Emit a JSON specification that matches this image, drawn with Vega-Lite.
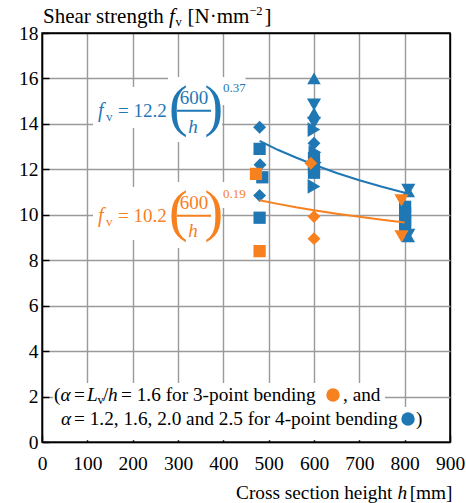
{
  "$schema": "https://vega.github.io/schema/vega-lite/v6.json",
  "width": 408,
  "height": 409,
  "autosize": {"type": "none"},
  "padding": {"left": 42, "top": 33, "right": 16, "bottom": 61},
  "background": "white",
  "config": {
    "view": {"stroke": "black", "strokeWidth": 1.5},
    "font": "Liberation Serif",
    "axis": {
      "grid": true,
      "gridColor": {"condition": {"test": "datum.value === 18 || datum.value === 900", "value": "black"}, "value": "#9a9a9a"},
      "gridWidth": 1.4,
      "domain": true,
      "domainColor": "black",
      "domainWidth": 1.5,
      "tickColor": "black",
      "tickSize": -7,
      "tickWidth": 1.4,
      "labelFont": "Liberation Serif",
      "labelFontSize": 19.5,
      "labelColor": "black",
      "labelFlush": false,
      "labelOverlap": false,
      "title": null
    }
  },
  "datasets": {
    "pts": [
      {"h": 480, "v": 13.85, "g": "4-point", "s": "diamond"},
      {"h": 480, "v": 12.9, "g": "4-point", "s": "square"},
      {"h": 481, "v": 12.2, "g": "4-point", "s": "diamond"},
      {"h": 486, "v": 11.65, "g": "4-point", "s": "square"},
      {"h": 480, "v": 10.85, "g": "4-point", "s": "diamond"},
      {"h": 480, "v": 9.87, "g": "4-point", "s": "square"},
      {"h": 600, "v": 16.0, "g": "4-point", "s": "triangle-up"},
      {"h": 600, "v": 14.85, "g": "4-point", "s": "triangle-down"},
      {"h": 600, "v": 14.47, "g": "4-point", "s": "triangle-up"},
      {"h": 600, "v": 14.05, "g": "4-point", "s": "triangle-down"},
      {"h": 600, "v": 13.75, "g": "4-point", "s": "triangle-right"},
      {"h": 600, "v": 13.15, "g": "4-point", "s": "diamond"},
      {"h": 602, "v": 12.75, "g": "4-point", "s": "triangle-right"},
      {"h": 600, "v": 12.5, "g": "4-point", "s": "square"},
      {"h": 603, "v": 12.3, "g": "4-point", "s": "triangle-right"},
      {"h": 600, "v": 12.05, "g": "4-point", "s": "square"},
      {"h": 600, "v": 11.85, "g": "4-point", "s": "square"},
      {"h": 600, "v": 11.25, "g": "4-point", "s": "triangle-right"},
      {"h": 808, "v": 11.1, "g": "4-point", "s": "triangle-down"},
      {"h": 808, "v": 11.03, "g": "4-point", "s": "triangle-up"},
      {"h": 801, "v": 10.35, "g": "4-point", "s": "square"},
      {"h": 801, "v": 10.05, "g": "4-point", "s": "square"},
      {"h": 801, "v": 9.75, "g": "4-point", "s": "square"},
      {"h": 801, "v": 9.5, "g": "4-point", "s": "square"},
      {"h": 808, "v": 9.12, "g": "4-point", "s": "triangle-down"},
      {"h": 808, "v": 9.05, "g": "4-point", "s": "triangle-up"},
      {"h": 472, "v": 11.8, "g": "3-point", "s": "square"},
      {"h": 480, "v": 8.4, "g": "3-point", "s": "square"},
      {"h": 593, "v": 12.27, "g": "3-point", "s": "diamond"},
      {"h": 600, "v": 9.92, "g": "3-point", "s": "diamond"},
      {"h": 600, "v": 8.95, "g": "3-point", "s": "diamond"},
      {"h": 793, "v": 10.63, "g": "3-point", "s": "triangle-down"},
      {"h": 793, "v": 9.05, "g": "3-point", "s": "triangle-down"}
    ],
    "fit": [
      {"h": 480, "v": 13.25, "g": "4-point"},
      {"h": 520, "v": 12.86, "g": "4-point"},
      {"h": 560, "v": 12.52, "g": "4-point"},
      {"h": 600, "v": 12.2, "g": "4-point"},
      {"h": 650, "v": 11.84, "g": "4-point"},
      {"h": 700, "v": 11.52, "g": "4-point"},
      {"h": 750, "v": 11.23, "g": "4-point"},
      {"h": 800, "v": 10.97, "g": "4-point"},
      {"h": 480, "v": 10.64, "g": "3-point"},
      {"h": 520, "v": 10.48, "g": "3-point"},
      {"h": 560, "v": 10.33, "g": "3-point"},
      {"h": 600, "v": 10.2, "g": "3-point"},
      {"h": 650, "v": 10.05, "g": "3-point"},
      {"h": 700, "v": 9.91, "g": "3-point"},
      {"h": 750, "v": 9.78, "g": "3-point"},
      {"h": 800, "v": 9.66, "g": "3-point"}
    ],
    "boxes": [
      {"h": 112.5, "h2": 278, "v": 15.62, "v2": 13.82},
      {"h": 278, "h2": 397, "v": 16.06, "v2": 13.2},
      {"h": 397, "h2": 449, "v": 16.06, "v2": 14.83},
      {"h": 112.5, "h2": 278, "v": 11.22, "v2": 8.89},
      {"h": 278, "h2": 397, "v": 11.44, "v2": 8.54},
      {"h": 397, "h2": 449, "v": 11.44, "v2": 10.3},
      {"h": 24.5, "h2": 756.6, "v": 2.6, "v2": 1.54},
      {"h": 24.5, "h2": 856, "v": 1.54, "v2": 0.08}
    ],
    "bars": [
      {"h": 297.8, "h2": 372.8, "v": 14.58, "g": "4-point"},
      {"h": 297.8, "h2": 372.8, "v": 9.96, "g": "3-point"}
    ],
    "eq": [
      {"h": 123.5, "v": 14.55, "t": "f", "g": "4-point", "r": "var"},
      {"h": 141, "v": 14.3, "t": "v", "g": "4-point", "r": "sub"},
      {"h": 167.6, "v": 14.55, "t": "= 12.2", "g": "4-point", "r": "num"},
      {"h": 300.5, "v": 14.68, "t": "(", "g": "4-point", "r": "paren"},
      {"h": 379, "v": 14.68, "t": ")", "g": "4-point", "r": "paren"},
      {"h": 335.3, "v": 15.13, "t": "600", "g": "4-point", "r": "frac"},
      {"h": 333, "v": 13.88, "t": "h", "g": "4-point", "r": "fvar"},
      {"h": 399.3, "v": 15.56, "t": "0.37", "g": "4-point", "r": "exp"},
      {"h": 123.5, "v": 9.96, "t": "f", "g": "3-point", "r": "var"},
      {"h": 141, "v": 9.7, "t": "v", "g": "3-point", "r": "sub"},
      {"h": 167.6, "v": 9.96, "t": "= 10.2", "g": "3-point", "r": "num"},
      {"h": 300.5, "v": 10.07, "t": "(", "g": "3-point", "r": "paren"},
      {"h": 379, "v": 10.07, "t": ")", "g": "3-point", "r": "paren"},
      {"h": 335.3, "v": 10.54, "t": "600", "g": "3-point", "r": "frac"},
      {"h": 333, "v": 9.3, "t": "h", "g": "3-point", "r": "fvar"},
      {"h": 399.3, "v": 10.91, "t": "0.19", "g": "3-point", "r": "exp"}
    ],
    "lab": [
      {"h": 2.2, "v": 18.71, "t": "Shear strength", "r": "tt"},
      {"h": 280, "v": 18.71, "t": "f", "r": "tti"},
      {"h": 294.5, "v": 18.5, "t": "v", "r": "small"},
      {"h": 321, "v": 18.71, "t": "[N·mm", "r": "tt"},
      {"h": 457, "v": 18.97, "t": "−2", "r": "small"},
      {"h": 491, "v": 18.71, "t": "]", "r": "tt"},
      {"h": 428, "v": -2.245, "t": "Cross section height", "r": "txt"},
      {"h": 784, "v": -2.245, "t": "h", "r": "txti"},
      {"h": 811, "v": -2.245, "t": "[mm]", "r": "txt"},
      {"h": 26.5, "v": 2.07, "t": "(", "r": "txt"},
      {"h": 40.8, "v": 2.07, "t": "α", "r": "txti"},
      {"h": 70.6, "v": 2.07, "t": "=", "r": "txt"},
      {"h": 99.3, "v": 2.07, "t": "L", "r": "txti"},
      {"h": 122.4, "v": 1.85, "t": "v", "r": "small"},
      {"h": 134.6, "v": 2.07, "t": "/", "r": "txt"},
      {"h": 145.6, "v": 2.07, "t": "h", "r": "txti"},
      {"h": 174.3, "v": 2.07, "t": "= 1.6 for 3-point bending", "r": "txt"},
      {"h": 664, "v": 2.07, "t": ", and", "r": "txt"},
      {"h": 41.9, "v": 1.01, "t": "α", "r": "txti"},
      {"h": 70.6, "v": 1.01, "t": "= 1.2, 1.6, 2.0 and 2.5 for 4-point bending", "r": "txt"},
      {"h": 825, "v": 1.01, "t": ")", "r": "txt"}
    ],
    "dots": [
      {"h": 641.9, "v": 2.07, "g": "3-point"},
      {"h": 807.4, "v": 1.01, "g": "4-point"}
    ]
  },
  "encoding": {
    "x": {"field": "h", "type": "quantitative", "title": null,
      "scale": {"domain": [0, 900], "nice": false, "zero": false},
      "axis": {"values": [0, 100, 200, 300, 400, 500, 600, 700, 800, 900], "labelPadding": 19, "labelFont": "Liberation Serif"}},
    "y": {"field": "v", "type": "quantitative", "title": null,
      "scale": {"domain": [0, 18], "nice": false, "zero": false},
      "axis": {"values": [0, 2, 4, 6, 8, 10, 12, 14, 16, 18], "labelPadding": 11, "labelFont": "Liberation Serif"}}
  },
  "layer": [
    {
      "data": {"name": "boxes"},
      "mark": {"type": "rect", "fill": "white", "strokeWidth": 0},
      "encoding": {"x2": {"field": "h2"}, "y2": {"field": "v2"}}
    },
    {
      "data": {"name": "pts"},
      "transform": [{"filter": "datum.g === '4-point'"}],
      "mark": {"type": "point", "filled": true, "opacity": 1},
      "encoding": {
        "color": {"field": "g", "type": "nominal", "legend": null,
          "scale": {"domain": ["3-point", "4-point"], "range": ["#f7801f", "#1f77b4"]}},
        "shape": {"field": "s", "type": "nominal", "legend": null,
          "scale": {"domain": ["square", "diamond", "triangle-up", "triangle-down", "triangle-right"],
                    "range": ["square", "diamond", "triangle-up", "triangle-down", "triangle-right"]}},
        "size": {"field": "s", "type": "nominal", "legend": null,
          "scale": {"domain": ["square", "diamond", "triangle-up", "triangle-down", "triangle-right"],
                    "range": [150, 215, 240, 240, 240]}}
      }
    },
    {
      "data": {"name": "fit"},
      "mark": {"type": "line", "strokeWidth": 2},
      "encoding": {"color": {"field": "g", "type": "nominal", "legend": null}}
    },
    {
      "data": {"name": "pts"},
      "transform": [{"filter": "datum.g === '3-point'"}],
      "mark": {"type": "point", "filled": true, "opacity": 1},
      "encoding": {
        "color": {"field": "g", "type": "nominal", "legend": null},
        "shape": {"field": "s", "type": "nominal", "legend": null},
        "size": {"field": "s", "type": "nominal", "legend": null}
      }
    },
    {
      "data": {"name": "bars"},
      "mark": {"type": "rule", "strokeWidth": 2},
      "encoding": {"x2": {"field": "h2"}, "color": {"field": "g", "type": "nominal", "legend": null}}
    },
    {
      "data": {"name": "eq"},
      "transform": [{"filter": "datum.r === 'var'"}],
      "mark": {"type": "text", "font": "Liberation Serif", "fontSize": 20, "fontStyle": "italic", "align": "left", "baseline": "middle"},
      "encoding": {"text": {"field": "t"}, "color": {"field": "g", "type": "nominal", "legend": null}}
    },
    {
      "data": {"name": "eq"},
      "transform": [{"filter": "datum.r === 'sub' || datum.r === 'exp'"}],
      "mark": {"type": "text", "font": "Liberation Serif", "fontSize": 13, "align": "left", "baseline": "middle"},
      "encoding": {"text": {"field": "t"}, "color": {"field": "g", "type": "nominal", "legend": null}}
    },
    {
      "data": {"name": "eq"},
      "transform": [{"filter": "datum.r === 'num'"}],
      "mark": {"type": "text", "font": "Liberation Serif", "fontSize": 19, "align": "left", "baseline": "middle"},
      "encoding": {"text": {"field": "t"}, "color": {"field": "g", "type": "nominal", "legend": null}}
    },
    {
      "data": {"name": "eq"},
      "transform": [{"filter": "datum.r === 'frac'"}],
      "mark": {"type": "text", "font": "Liberation Serif", "fontSize": 19, "align": "center", "baseline": "middle"},
      "encoding": {"text": {"field": "t"}, "color": {"field": "g", "type": "nominal", "legend": null}}
    },
    {
      "data": {"name": "eq"},
      "transform": [{"filter": "datum.r === 'fvar'"}],
      "mark": {"type": "text", "font": "Liberation Serif", "fontSize": 19, "fontStyle": "italic", "align": "center", "baseline": "middle"},
      "encoding": {"text": {"field": "t"}, "color": {"field": "g", "type": "nominal", "legend": null}}
    },
    {
      "data": {"name": "eq"},
      "transform": [{"filter": "datum.r === 'paren'"}],
      "mark": {"type": "text", "font": "Liberation Serif", "fontSize": 56, "align": "center", "baseline": "middle"},
      "encoding": {"text": {"field": "t"}, "color": {"field": "g", "type": "nominal", "legend": null}}
    },
    {
      "data": {"name": "lab"},
      "transform": [{"filter": "datum.r === 'tt'"}],
      "mark": {"type": "text", "font": "Liberation Serif", "fontSize": 21, "align": "left", "baseline": "middle", "color": "black"},
      "encoding": {"text": {"field": "t"}}
    },
    {
      "data": {"name": "lab"},
      "transform": [{"filter": "datum.r === 'tti'"}],
      "mark": {"type": "text", "font": "Liberation Serif", "fontSize": 21, "fontStyle": "italic", "align": "left", "baseline": "middle", "color": "black"},
      "encoding": {"text": {"field": "t"}}
    },
    {
      "data": {"name": "lab"},
      "transform": [{"filter": "datum.r === 'txt'"}],
      "mark": {"type": "text", "font": "Liberation Serif", "fontSize": 19.3, "align": "left", "baseline": "middle", "color": "black"},
      "encoding": {"text": {"field": "t"}}
    },
    {
      "data": {"name": "lab"},
      "transform": [{"filter": "datum.r === 'txti'"}],
      "mark": {"type": "text", "font": "Liberation Serif", "fontSize": 19.3, "fontStyle": "italic", "align": "left", "baseline": "middle", "color": "black"},
      "encoding": {"text": {"field": "t"}}
    },
    {
      "data": {"name": "lab"},
      "transform": [{"filter": "datum.r === 'small'"}],
      "mark": {"type": "text", "font": "Liberation Serif", "fontSize": 12.5, "align": "left", "baseline": "middle", "color": "black"},
      "encoding": {"text": {"field": "t"}}
    },
    {
      "data": {"name": "dots"},
      "mark": {"type": "point", "shape": "circle", "filled": true, "opacity": 1, "size": 180},
      "encoding": {"color": {"field": "g", "type": "nominal", "legend": null}}
    }
  ]
}
